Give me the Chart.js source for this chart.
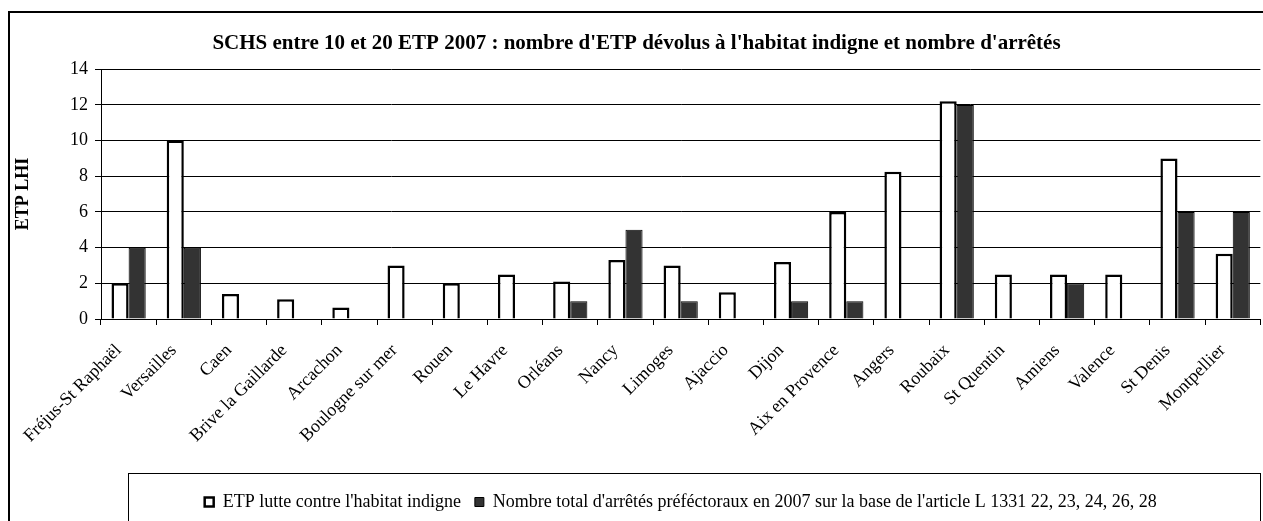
<!DOCTYPE html>
<html>
<head>
<meta charset="utf-8">
<script src="https://cdn.jsdelivr.net/npm/chart.js@4.4.1/dist/chart.umd.min.js"></script>
<style>
	html, body { margin: 0; padding: 0; background: #fff; }
	#wrap { width: 1263px; height: 521px; position: relative; }
</style>
</head>
<body>
<div id="wrap"><canvas id="chart" width="1263" height="521"></canvas></div>
<script>
const titleText = "SCHS entre 10 et 20 ETP 2007 : nombre d'ETP dévolus à l'habitat indigne et nombre d'arrêtés";
const yAxisTitle = 'ETP LHI';

const categories = [
	'Fréjus-St Raphaël', 'Versailles', 'Caen', 'Brive la Gaillarde', 'Arcachon',
	'Boulogne sur mer', 'Rouen', 'Le Havre', 'Orléans', 'Nancy', 'Limoges',
	'Ajaccio', 'Dijon', 'Aix en Provence', 'Angers', 'Roubaix', 'St Quentin',
	'Amiens', 'Valence', 'St Denis', 'Montpellier',
];

// ETP lutte contre l'habitat indigne
const etpValues = [2, 10, 1.4, 1.1, 0.65, 3, 2, 2.5, 2.1, 3.3, 3, 1.5, 3.2, 6, 8.25, 12.2, 2.5, 2.5, 2.5, 9, 3.65];

// nombre d'arrêtés (null = pas de barre)
const arretesValues = [4, 4, null, null, null, null, null, null, 1, 5, 1, null, 1, 1, null, 12, null, 2, null, 6, 6];

const seriesLabels = [
	"ETP lutte contre l'habitat indigne",
	"Nombre total d'arrêtés préféctoraux en 2007 sur la base de l'article L 1331 22, 23, 24, 26, 28",
];

const yTicks = { min: 0, max: 14, step: 2 };

const serif = "'Liberation Serif', 'Times New Roman', serif";

// white page + outer frame, and the box round the legend
const framePlugin = {
	id: 'frame',
	beforeDraw(chart) {
		const ctx = chart.ctx;
		ctx.save();
		ctx.fillStyle = '#fff';
		ctx.fillRect(0, 0, chart.width, chart.height);
		ctx.strokeStyle = '#000';
		ctx.lineWidth = 2;
		ctx.strokeRect(9, 12, chart.width + 20, chart.height + 20);
		ctx.restore();
	},
	afterDraw(chart) {
		const lg = chart.legend;
		if (!lg) return;
		const ctx = chart.ctx;
		ctx.save();
		ctx.strokeStyle = '#000';
		ctx.lineWidth = 1;
		ctx.strokeRect(chart.chartArea.left + 27.5, lg.top - 5.5, chart.width - chart.chartArea.left - 30, 70);
		ctx.restore();
	},
};

new Chart(document.getElementById('chart'), {
	type: 'bar',
	data: {
		labels: categories,
		datasets: [
			{
				label: seriesLabels[0],
				data: etpValues,
				backgroundColor: '#ffffff',
				borderColor: '#000000',
				borderWidth: 2.5,
			},
			{
				label: seriesLabels[1],
				data: arretesValues,
				backgroundColor: '#333333',
				borderColor: '#000000',
				borderWidth: 1,
			},
		],
	},
	options: {
		responsive: false,
		animation: false,
		devicePixelRatio: 1,
		layout: { padding: { top: 12, left: 10, right: 0, bottom: 0 } },
		datasets: { bar: { categoryPercentage: 0.62, barPercentage: 1.0 } },
		plugins: {
			title: {
				display: true,
				text: titleText,
				color: '#000',
				font: { family: serif, size: 21, weight: 'bold' },
				padding: { top: 19, bottom: 13 },
			},
			legend: {
				position: 'bottom',
				fullSize: false,
				labels: {
					color: '#000',
					font: { family: serif, size: 18 },
					boxWidth: 9,
					boxHeight: 9,
					padding: 14,
				},
			},
			tooltip: { enabled: false },
		},
		scales: {
			x: {
				afterFit(scale) { scale.height = 160; },
				grid: { drawOnChartArea: false, color: '#000', tickLength: 6 },
				border: { color: '#000', width: 1 },
				ticks: {
					color: '#000',
					font: { family: serif, size: 18 },
					minRotation: 45,
					maxRotation: 45,
					autoSkip: false,
					labelOffset: -10,
					padding: 15,
				},
			},
			y: {
				min: yTicks.min,
				max: yTicks.max,
				afterFit(scale) { scale.width = 91; },
				grid: { color: '#000', tickLength: 6 },
				border: { color: '#000', width: 1 },
				ticks: {
					stepSize: yTicks.step,
					color: '#000',
					font: { family: serif, size: 18 },
					padding: 7,
				},
				title: {
					display: true,
					text: yAxisTitle,
					color: '#000',
					font: { family: serif, size: 18, weight: 'bold' },
					padding: { top: 3, bottom: 0 },
				},
			},
		},
	},
	plugins: [framePlugin],
});
</script>
</body>
</html>
